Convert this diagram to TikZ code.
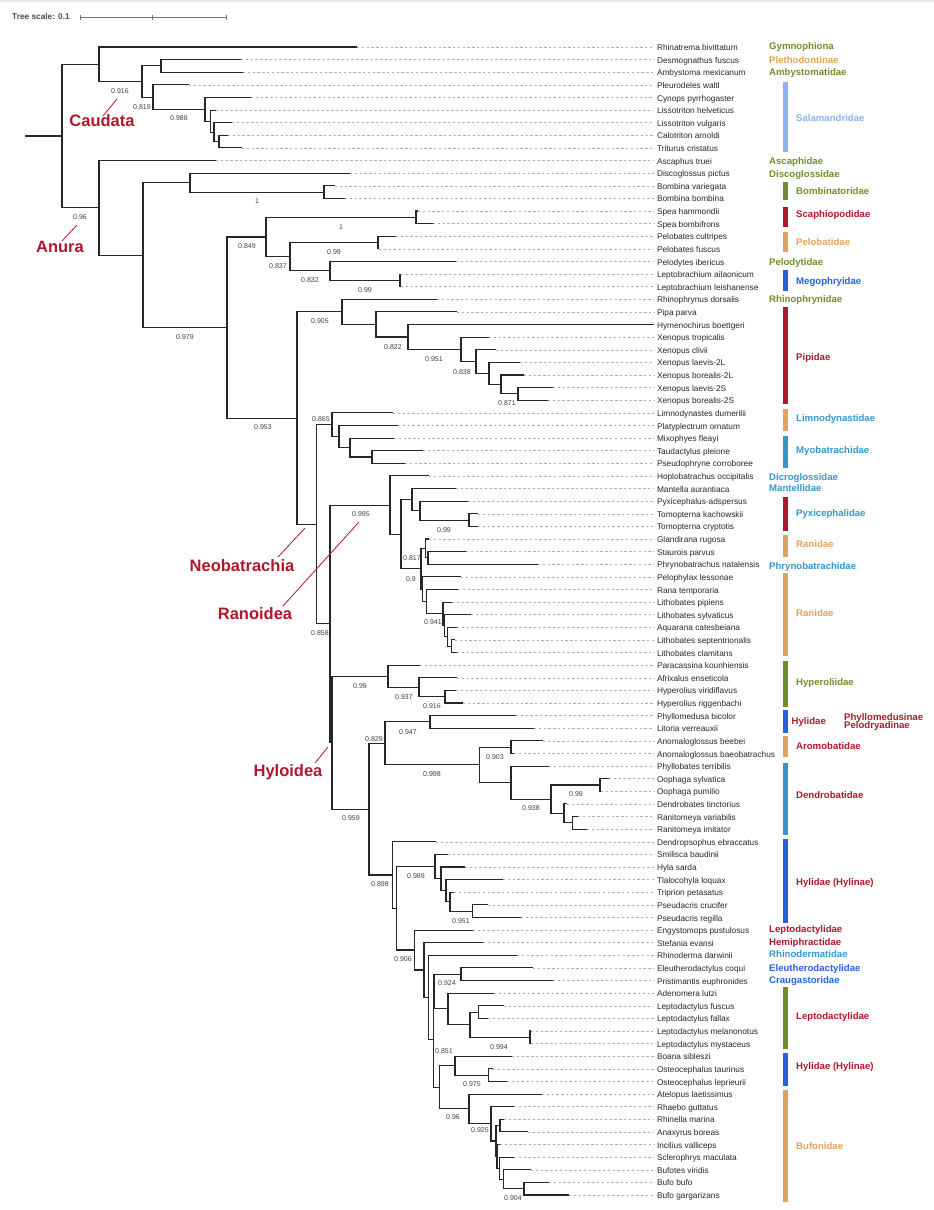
\documentclass[tikz,border=0pt]{standalone}
\usepackage{fontspec}
\setmainfont{Liberation Sans}
\usetikzlibrary{calc}

\definecolor{famgreen}{RGB}{112,142,44}
\definecolor{famorange}{RGB}{222,163,92}
\definecolor{famred}{RGB}{176,22,44}
\definecolor{famblue}{RGB}{38,98,222}
\definecolor{famcyan}{RGB}{54,150,204}
\definecolor{famlight}{RGB}{140,178,240}

% internal node: name, x, upper child, lower child
\newcommand\cladenode[4]{%
  \path let \p1=(#3), \p2=(#4) in coordinate (#1) at (#2pt,{(\y1+\y2)/2});
  \draw[branch] (#3) -| (#1) |- (#4);
}

\begin{document}
\begin{tikzpicture}[x=1pt,y=-1pt,
    branch/.style={draw=black!85, line width=1.1pt},
    tipline/.style={draw=black!32, line width=0.5pt, dash pattern=on 2.4pt off 2.4pt},
    leaf/.style={anchor=west, inner sep=0pt, outer sep=3pt, text=black!85,
      font=\fontsize{8.3}{9}\selectfont, text height=0.72em, text depth=0pt},
    sup/.style={inner sep=0pt, text=black!75, font=\fontsize{7}{8}\selectfont},
    fam/.style={anchor=west, inner sep=0pt, font=\fontsize{9.6}{10}\selectfont\bfseries,
      text height=0.72em, text depth=0pt},
    clade/.style={inner sep=0pt, text=famred, font=\fontsize{16.5}{18}\selectfont\bfseries,
      text height=0.72em, text depth=0pt},
    cladeline/.style={draw=famred, line width=0.8pt}]
  \useasboundingbox (0,0) rectangle (934,1210);
  \fill[black!10] (0,0) rectangle (934,1.5);

  % Tree scale
  \node[anchor=west, inner sep=0pt, text=black!70, font=\fontsize{8.3}{9}\selectfont\bfseries] (scale) at (12,17) {Tree scale: 0.1};
  \coordinate (sb0) at (80,17);
  \coordinate (sb1) at (226,17);
  \draw[black!55, line width=0.8pt] (sb0) -- (sb1);
  \foreach \sx in {80,152,226}
    \draw[black!55, line width=0.8pt] (\sx,14.5) -- (\sx,19.5);

  % Leaves: index / tip x / name
  \foreach \i/\tx/\nm in {
      1/357/Rhinatrema bivittatum, 2/241/Desmognathus fuscus, 3/243/Ambystoma mexicanum,
      4/189/Pleurodeles waltl, 5/251/Cynops pyrrhogaster, 6/216/Lissotriton helveticus,
      7/232/Lissotriton vulgaris, 8/228/Calotriton arnoldi, 9/242/Triturus cristatus,
      10/216/Ascaphus truei, 11/350/Discoglossus pictus, 12/335/Bombina variegata,
      13/345/Bombina bombina, 14/418/Spea hammondii, 15/433/Spea bombifrons,
      16/396/Pelobates cultripes, 17/379/Pelobates fuscus, 18/456/Pelodytes ibericus,
      19/401/Leptobrachium ailaonicum, 20/401/Leptobrachium leishanense,
      21/437/Rhinophrynus dorsalis, 22/457/Pipa parva, 23/654/Hymenochirus boettgeri,
      24/489/Xenopus tropicalis, 25/496/Xenopus clivii, 26/520/Xenopus laevis-2L,
      27/524/Xenopus borealis-2L, 28/553/Xenopus laevis-2S, 29/548/Xenopus borealis-2S,
      30/393/Limnodynastes dumerilii, 31/398/Platyplectrum ornatum, 32/394/Mixophyes fleayi,
      33/423/Taudactylus pleione, 34/405/Pseudophryne corroboree,
      35/429/Hoplobatrachus occipitalis, 36/456/Mantella aurantiaca,
      37/468/Pyxicephalus-adspersus, 38/478/Tomopterna kachowskii, 39/478/Tomopterna cryptotis,
      40/429/Glandirana rugosa, 41/466/Staurois parvus, 42/538/Phrynobatrachus natalensis,
      43/461/Pelophylax lessonae, 44/458/Rana temporaria, 45/452/Lithobates pipiens,
      46/471/Lithobates sylvaticus, 47/457/Aquarana catesbeiana,
      48/455/Lithobates septentrionalis, 49/457/Lithobates clamitans,
      50/420/Paracassina kounhiensis, 51/457/Afrixalus enseticola,
      52/456/Hyperolius viridiflavus, 53/463/Hyperolius riggenbachi,
      54/516/Phyllomedusa bicolor, 55/534/Litoria verreauxii, 56/543/Anomaloglossus beebei,
      57/514/Anomaloglossus baeobatrachus, 58/549/Phyllobates terribilis,
      59/609/Oophaga sylvatica, 60/601/Oophaga pumilio, 61/567/Dendrobates tinctorius,
      62/578/Ranitomeya variabilis, 63/587/Ranitomeya imitator,
      64/436/Dendropsophus ebraccatus, 65/448/Smilisca baudinii, 66/465/Hyla sarda,
      67/503/Tlalocohyla loquax, 68/454/Triprion petasatus, 69/488/Pseudacris crucifer,
      70/521/Pseudacris regilla, 71/473/Engystomops pustulosus, 72/483/Stefania evansi,
      73/517/Rhinoderma darwinii, 74/533/Eleutherodactylus coqui,
      75/553/Pristimantis euphronides, 76/494/Adenomera lutzi, 77/504/Leptodactylus fuscus,
      78/488/Leptodactylus fallax, 79/531/Leptodactylus melanonotus,
      80/531/Leptodactylus mystaceus, 81/512/Boana sibleszi, 82/493/Osteocephalus taurinus,
      83/507/Osteocephalus leprieurii, 84/542/Atelopus laetissimus, 85/514/Rhaebo guttatus,
      86/504/Rhinella marina, 87/528/Anaxyrus boreas, 88/500/Incilius valliceps,
      89/514/Sclerophrys maculata, 90/531/Bufotes viridis, 91/549/Bufo bufo,
      92/569/Bufo gargarizans} {
    \coordinate (t\i) at (\tx,{47+(\i-1)*12.615});
    \node[leaf] (l\i) at (654,{47+(\i-1)*12.615}) {\nm};
    \draw[tipline] (t\i) -- (l\i.west);
  }

  % Caudata and Gymnophiona
  \cladenode{nD}{219}{t8}{t9}
  \cladenode{nC}{214}{t7}{nD}
  \cladenode{nB}{210.5}{t6}{nC}
  \cladenode{nA}{205}{t5}{nB}
  \cladenode{nPl}{153}{t4}{nA}
  \cladenode{nDA}{161}{t2}{t3}
  \cladenode{nCau}{142}{nDA}{nPl}
  \cladenode{nTop}{99}{t1}{nCau}

  % Archaeobatrachia
  \cladenode{nBom}{324}{t12}{t13}
  \cladenode{nDB}{190}{t11}{nBom}
  \cladenode{nSpea}{416}{t14}{t15}
  \cladenode{nPelo}{378}{t16}{t17}
  \cladenode{nLep}{400}{t19}{t20}
  \cladenode{nPd}{330}{t18}{nLep}
  \cladenode{nPo}{290}{nPelo}{nPd}
  \cladenode{nPb}{266}{nSpea}{nPo}

  % Pipoidea
  \cladenode{nXb}{518}{t28}{t29}
  \cladenode{nXa}{501}{t27}{nXb}
  \cladenode{nXl}{489}{t26}{nXa}
  \cladenode{nXc}{476}{t25}{nXl}
  \cladenode{nXen}{461}{t24}{nXc}
  \cladenode{nHym}{408}{t23}{nXen}
  \cladenode{nPip}{376}{t22}{nHym}
  \cladenode{nPipo}{342}{t21}{nPip}

  % Myobatrachoidea
  \cladenode{nMy3}{372}{t33}{t34}
  \cladenode{nMy2}{350}{t32}{nMy3}
  \cladenode{nMy1}{339}{t31}{nMy2}
  \cladenode{nMyo}{332}{t30}{nMy1}

  % Ranoidea
  \cladenode{nTom}{469}{t38}{t39}
  \cladenode{nPyx}{420}{t37}{nTom}
  \cladenode{nMan}{412}{t36}{nPyx}
  \cladenode{nSP}{428}{t41}{t42}
  \cladenode{nGla}{425.7}{t40}{nSP}
  \cladenode{nLc}{451.7}{t48}{t49}
  \cladenode{nLa}{447.3}{t47}{nLc}
  \cladenode{nLx}{444.5}{t46}{nLa}
  \cladenode{nLp}{443}{t45}{nLx}
  \cladenode{nRt}{426.7}{t44}{nLp}
  \cladenode{nPel}{422.5}{t43}{nRt}
  \cladenode{nRa}{421}{nGla}{nPel}
  \cladenode{nAf}{401}{nMan}{nRa}
  \cladenode{nRan}{390}{t35}{nAf}

  % Hyloidea
  \cladenode{nHy3}{445}{t52}{t53}
  \cladenode{nHy2}{419}{t51}{nHy3}
  \cladenode{nHyp}{388}{t50}{nHy2}
  \cladenode{nPL}{430}{t54}{t55}
  \cladenode{nAno}{511}{t56}{t57}
  \cladenode{nRani}{572.7}{t62}{t63}
  \cladenode{nDt}{564}{t61}{nRani}
  \cladenode{nOop}{600}{t59}{t60}
  \cladenode{nDe2}{551}{nOop}{nDt}
  \cladenode{nDen}{511}{t58}{nDe2}
  \cladenode{nAD}{479.3}{nAno}{nDen}
  \cladenode{nPh}{385}{nPL}{nAD}
  \cladenode{nPs}{472.3}{t69}{t70}
  \cladenode{nTr}{450}{t68}{nPs}
  \cladenode{nTl}{446}{t67}{nTr}
  \cladenode{nHs}{441}{t66}{nTl}
  \cladenode{nHyl}{435}{t65}{nHs}
  \cladenode{nEP}{461}{t74}{t75}
  \cladenode{nLf}{478.3}{t77}{t78}
  \cladenode{nLm}{530}{t79}{t80}
  \cladenode{nLt}{470}{nLf}{nLm}
  \cladenode{nLd}{448}{t76}{nLt}
  \cladenode{nV}{434}{nEP}{nLd}
  \cladenode{nOst}{488.3}{t82}{t83}
  \cladenode{nBoa}{455}{t81}{nOst}
  \cladenode{nBb}{524}{t91}{t92}
  \cladenode{nBv}{503.3}{t90}{nBb}
  \cladenode{nSc}{499.3}{t89}{nBv}
  \cladenode{nIn}{497}{t88}{nSc}
  \cladenode{nRm}{500}{t86}{t87}
  \cladenode{nBu2}{496}{nRm}{nIn}
  \cladenode{nRh}{491}{t85}{nBu2}
  \cladenode{nBuf}{469}{t84}{nRh}
  \cladenode{nBH}{439.3}{nBoa}{nBuf}
  \cladenode{nLB}{433.3}{nV}{nBH}
  \cladenode{nRd}{428.3}{t73}{nLB}
  \cladenode{nSt}{424}{t72}{nRd}
  \cladenode{nEn}{414.3}{t71}{nSt}
  \cladenode{nHE}{396.7}{nHyl}{nEn}
  \cladenode{nDp}{392.7}{t64}{nHE}
  \cladenode{nHy}{369}{nPh}{nDp}
  \cladenode{nHyo}{332}{nHyp}{nHy}

  % Backbone
  \cladenode{nRH}{330}{nRan}{nHyo}
  \cladenode{nNeo}{316.7}{nMyo}{nRH}
  \cladenode{nPN}{297}{nPipo}{nNeo}
  \cladenode{nAr}{227}{nPb}{nPN}
  \cladenode{nBA}{143}{nDB}{nAr}
  \cladenode{nAnu}{99}{t10}{nBA}
  \cladenode{nRoot}{62}{nTop}{nAnu}
  \path let \p1=(nRoot) in coordinate (stem) at (25pt,\y1);
  \draw[branch] (stem) -- (nRoot);

  % Support values
  \foreach \sv/\sx/\sy [count=\k] in {0.916/120/91, 0.819/142/107, 0.988/179/118,
      1/257/201, 0.96/80/217, 1/341/227, 0.849/247/246, 0.99/334/252, 0.837/278/266,
      0.832/310/280, 0.99/365/290, 0.979/185/337, 0.905/320/321, 0.822/393/347,
      0.951/434/359, 0.838/462/372, 0.871/507/403, 0.953/263/427, 0.865/321/419,
      0.995/361/514, 0.99/444/530, 0.817/412/558, 0.9/411/579, 0.941/433/622,
      0.858/320/633, 0.99/360/686, 0.937/404/697, 0.916/432/706, 0.947/408/732,
      0.829/374/739, 0.903/495/757, 0.998/432/774, 0.99/576/794, 0.938/531/808,
      0.959/351/818, 0.989/416/876, 0.898/380/884, 0.951/461/921, 0.906/403/959,
      0.924/447/983, 0.994/499/1047, 0.851/444/1051, 0.975/472/1084, 0.96/453/1117,
      0.925/480/1130, 0.904/513/1198}
    \node[sup] (s\k) at (\sx,\sy) {\sv};

  % Clade names
  \foreach \cn/\cx/\cy/\ax/\ay/\bx/\by in {Caudata/102/123/103/116/117/99,
      Anura/60/249/62/241/77/225, Neobatrachia/242/568/278/557/305/528,
      Ranoidea/255/616/283/606/359/522, Hyloidea/288/773/315/763/328/747} {
    \node[clade] (c\cn) at (\cx,\cy) {\cn};
    \coordinate (c\cn a) at (\ax,\ay);
    \coordinate (c\cn b) at (\bx,\by);
    \draw[cladeline] (c\cn a) -- (c\cn b);
  }

  % Family bars
  \foreach \ya/\yb/\col in {81.7/152.3/famlight, 182/200/famgreen, 206.7/226.7/famred,
      231.7/252.3/famorange, 270/290.7/famblue, 307.3/404/famred, 409.3/431/famorange,
      436/468.3/famcyan, 497.3/530.7/famred, 535/557.3/famorange, 572.7/655.7/famorange,
      660.7/707.3/famgreen, 710/733.3/famblue, 736/757.3/famorange, 762.7/835/famcyan,
      839.3/923.3/famblue, 987.3/1049/famgreen, 1052.7/1085.7/famblue, 1090/1201.7/famorange}
    \fill[\col] (782.7,\ya) rectangle (788,\yb);

  % Family names
  \foreach \fn/\fx/\fy/\col [count=\k] in {Gymnophiona/769/46/famgreen,
      Plethodontinae/769/60/famorange, Ambystomatidae/769/72/famgreen,
      Salamandridae/796/118/famlight, Ascaphidae/769/161/famgreen,
      Discoglossidae/769/174/famgreen, Bombinatoridae/796/191/famgreen,
      Scaphiopodidae/796/214/famred, Pelobatidae/796/242/famorange,
      Pelodytidae/769/262/famgreen, Megophryidae/796/281/famblue,
      Rhinophrynidae/769/299/famgreen, Pipidae/796/357/famred,
      Limnodynastidae/796/418/famcyan, Myobatrachidae/796/450/famcyan,
      Dicroglossidae/769/477/famcyan, Mantellidae/769/488/famcyan,
      Pyxicephalidae/796/513/famcyan, Ranidae/796/544/famorange,
      Phrynobatrachidae/769/566/famcyan, Ranidae/796/613/famorange,
      Hyperoliidae/796/682/famgreen, Hylidae/791.5/721/famred,
      Phyllomedusinae/844/716.7/famred, Pelodryadinae/844/724.5/famred,
      Aromobatidae/796/746/famred, Dendrobatidae/796/795/famred,
      Hylidae (Hylinae)/796/882/famred, Leptodactylidae/769/929/famred,
      Hemiphractidae/769/942/famred, Rhinodermatidae/769/954/famcyan,
      Eleutherodactylidae/769/968/famblue, Craugastoridae/769/980/famblue,
      Leptodactylidae/796/1016/famred, Hylidae (Hylinae)/796/1066/famred,
      Bufonidae/796/1146/famorange}
    \node[fam, text=\col] (f\k) at (\fx,\fy) {\fn};
\end{tikzpicture}
\end{document}
